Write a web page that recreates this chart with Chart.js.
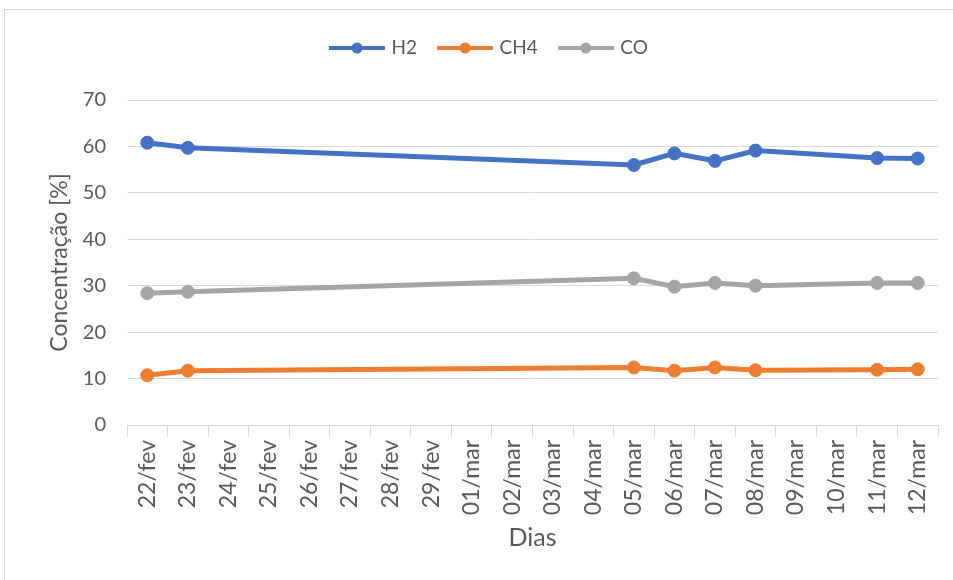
<!DOCTYPE html>
<html>
<head>
<meta charset="utf-8">
<script src="https://cdn.jsdelivr.net/npm/chart.js@4/dist/chart.umd.min.js"></script>
<style>
  html, body { margin: 0; padding: 0; background: #fff; }
  body { width: 953px; height: 580px; overflow: hidden; position: relative; }
  #frame { position: absolute; left: 4px; top: 9px; width: 980px; height: 600px; border: 1px solid #D9D9D9; box-sizing: border-box; }
  #wrap { position: absolute; left: 0; top: 0; width: 953px; height: 580px; }
</style>
</head>
<body>
<div id="frame"></div>
<div id="wrap"><canvas id="chart" width="953" height="580"></canvas></div>
<script>
// Days on the horizontal axis
const dias = ['22/fev', '23/fev', '24/fev', '25/fev', '26/fev', '27/fev', '28/fev', '29/fev',
  '01/mar', '02/mar', '03/mar', '04/mar', '05/mar', '06/mar', '07/mar', '08/mar',
  '09/mar', '10/mar', '11/mar', '12/mar'];

// Gas concentrations [%]; null = no sample that day
const h2  = [60.8, 59.7, null, null, null, null, null, null, null, null, null, null, 56.0, 58.5, 56.9, 59.1, null, null, 57.5, 57.4];
const ch4 = [10.7, 11.7, null, null, null, null, null, null, null, null, null, null, 12.4, 11.7, 12.4, 11.8, null, null, 11.9, 12.0];
const co  = [28.4, 28.7, null, null, null, null, null, null, null, null, null, null, 31.6, 29.8, 30.6, 30.0, null, null, 30.6, 30.6];

const seriesNames = ['H2', 'CH4', 'CO'];
const yTicks = [0, 10, 20, 30, 40, 50, 60, 70];

const colors = ['#4472C4', '#ED7D31', '#A5A5A5'];
const textColor = '#595959';
const gridColor = '#D9D9D9';
const FONT = 'Lato, "Liberation Sans", sans-serif';

// Legend marker: a short line with a dot in the middle
function swatch(color) {
  const c = document.createElement('canvas');
  c.width = 56; c.height = 14;
  const g = c.getContext('2d');
  g.strokeStyle = color; g.lineWidth = 4;
  g.beginPath(); g.moveTo(0, 7); g.lineTo(56, 7); g.stroke();
  g.fillStyle = color;
  g.beginPath(); g.arc(28, 7, 5.5, 0, Math.PI * 2); g.fill();
  return c;
}

const values = [h2, ch4, co];
const datasets = seriesNames.map((name, i) => ({
  label: name,
  data: values[i],
  borderColor: colors[i],
  backgroundColor: colors[i],
  borderWidth: 5,
  pointRadius: 6.5,
  pointBorderWidth: 1,
  pointBackgroundColor: colors[i],
  pointBorderColor: colors[i],
  spanGaps: true,
  tension: 0
}));

new Chart(document.getElementById('chart'), {
  type: 'line',
  data: { labels: dias, datasets },
  options: {
    responsive: false,
    animation: false,
    layout: { padding: { left: 42, right: 15, top: 15.5, bottom: 0 } },
    plugins: {
      tooltip: { enabled: false },
      legend: {
        position: 'top',
        align: 'center',
        labels: {
          usePointStyle: true,
          pointStyleWidth: 50,
          padding: 23,
          color: textColor,
          font: { family: FONT, size: 19 },
          generateLabels: (chart) => chart.data.datasets.map((ds, i) => ({
            text: ds.label,
            fillStyle: ds.borderColor,
            strokeStyle: ds.borderColor,
            lineWidth: 0,
            pointStyle: swatch(ds.borderColor),
            hidden: false,
            datasetIndex: i,
            fontColor: textColor
          }))
        }
      },
      // spacer between legend and plot
      subtitle: {
        display: true,
        text: '',
        weight: 500,
        font: { size: 10 },
        padding: { top: 0, bottom: 20.5 }
      }
    },
    scales: {
      x: {
        offset: true,
        grid: { offset: true, drawOnChartArea: false, drawTicks: true, tickLength: 12, color: gridColor },
        border: { display: true, color: gridColor, width: 1 },
        ticks: { minRotation: 90, maxRotation: 90, autoSkip: false, padding: 3, color: textColor, font: { family: FONT, size: 23 } },
        title: { display: true, text: 'Dias', color: textColor, font: { family: FONT, size: 25 }, padding: { top: 0, bottom: 27 } },
        afterFit: (s) => { s.height = 155; }
      },
      y: {
        min: 0,
        max: 70,
        afterBuildTicks: (s) => { s.ticks = yTicks.map(v => ({ value: v })); },
        grid: { color: gridColor, drawTicks: false },
        border: { display: false },
        ticks: { padding: 21, color: textColor, font: { family: FONT, size: 20 } },
        title: { display: true, text: 'Concentração [%]', color: textColor, font: { family: FONT, size: 23 }, padding: { top: 4, bottom: 0 } },
        afterFit: (s) => { s.width = 85; }
      }
    }
  }
});
</script>
</body>
</html>
